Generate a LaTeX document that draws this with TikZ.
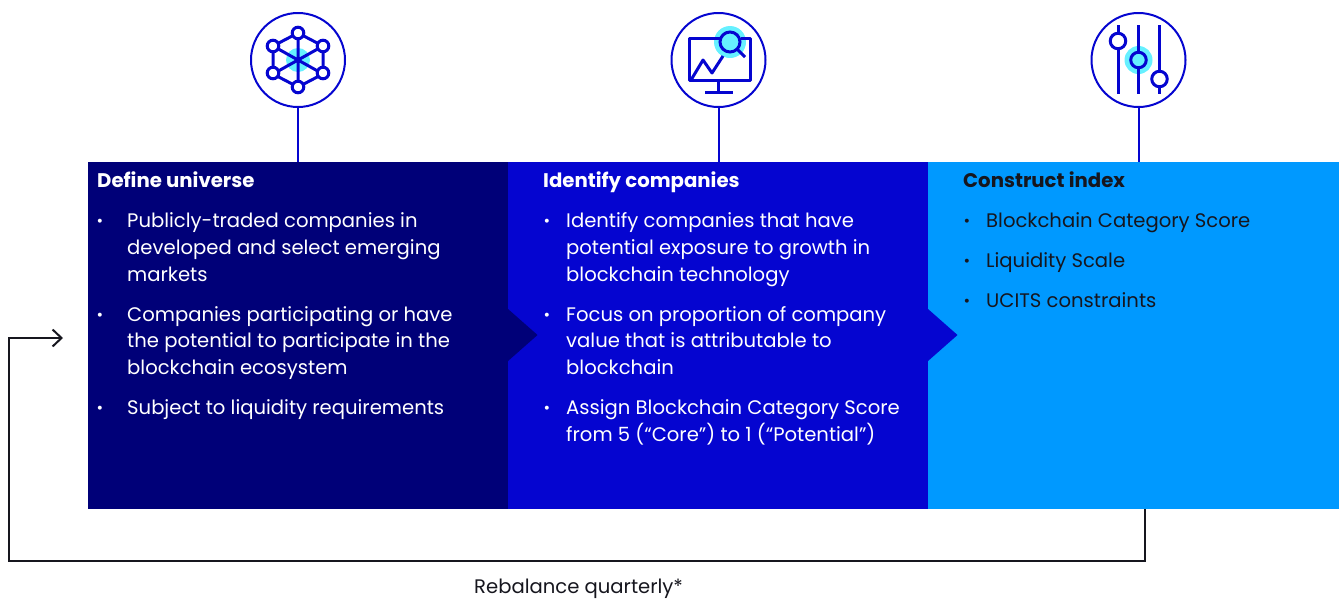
\documentclass[tikz,border=0pt]{standalone}
\usepackage{fontspec}
\setmainfont{Poppins}
\usetikzlibrary{arrows.meta,calc}
\definecolor{navy}{HTML}{000078}
\definecolor{royal}{HTML}{0505D0}
\definecolor{sky}{HTML}{0099FF}
\definecolor{glow}{HTML}{66F0FF}
\definecolor{ink}{HTML}{16161E}
\tikzset{
  panel/.style={draw=none,inner sep=0pt,minimum height=347pt,anchor=north west},
  ringicon/.style={circle,draw=royal,line width=2pt,minimum size=94pt,inner sep=0pt},
  stem/.style={draw=royal,line width=2pt},
  ico/.style={draw=royal,line width=3pt},
  hub/.style={circle,draw=royal,fill=white,line width=3pt,minimum size=11.6pt,inner sep=0pt},
  knob/.style={circle,draw=royal,fill=white,line width=3pt,minimum size=15.5pt,inner sep=0pt},
  txt/.style={anchor=base west,inner sep=0pt,font=\fontsize{19.6}{24}\selectfont},
  head/.style={txt,font=\fontsize{19.7}{24}\selectfont\bfseries},
  dot/.style={anchor=base,inner sep=0pt,font=\fontsize{16}{16}\selectfont},
  loopline/.style={draw=ink,line width=2pt}
}
\begin{document}
\begin{tikzpicture}[x=1pt,y=-1pt]
\useasboundingbox (0,0) rectangle (1339,598);
% panels
\node[panel,fill=navy,minimum width=420pt] (p1) at (88,162) {};
\node[panel,fill=royal,minimum width=420pt] (p2) at (508,162) {};
\node[panel,fill=sky,minimum width=411pt] (p3) at (928,162) {};
\fill[navy] (508,309) -- (537.5,335) -- (508,361) -- cycle;
\fill[royal] (928,309) -- (957.5,335) -- (928,361) -- cycle;
% rings and stems
\node[ringicon] (r1) at (298,60) {};
\node[ringicon] (r2) at (718.5,60) {};
\node[ringicon] (r3) at (1138.5,60) {};
\draw[stem] (r1.south) -- (r1.south |- p1.north);
\draw[stem] (r2.south) -- (r2.south |- p2.north);
\draw[stem] (r3.south) -- (r3.south |- p3.north);
% icon 1
\fill[glow] (298,60) circle (12);
\draw[ico] (298,33) -- (323,46) -- (323,74) -- (298,87) -- (273,74) -- (273,46) -- cycle;
\draw[ico] (298,33) -- (298,87) (273,46) -- (323,74) (323,46) -- (273,74);
\node[hub] (h1) at (298,33) {};
\node[hub] (h2) at (323,46) {};
\node[hub] (h3) at (323,73) {};
\node[hub] (h4) at (298,87) {};
\node[hub] (h5) at (273,73) {};
\node[hub] (h6) at (273,46) {};
% icon 2
\fill[glow] (730,42) circle (16);
\draw[ico,line join=round] (720,38.5) -- (689,38.5) -- (689,80) -- (750,80) -- (750,38.5) -- (741,38.5);
\draw[ico,line join=round] (691,80) -- (703,60) -- (712,73) -- (723,56);
\draw[ico] (718.5,80) -- (718.5,92) (705,92) -- (733,92);
\draw[ico] (730,42) circle (10);
\draw[ico] (737.5,49.5) -- (745,57);
% icon 3
\fill[glow] (1138.5,60) circle (14);
\draw[ico] (1118,25) -- (1118,94) (1138.5,25) -- (1138.5,94) (1159.5,25) -- (1159.5,94);
\node[knob] (k1) at (1118,41) {};
\node[knob,fill=glow] (k2) at (1138.5,60) {};
\node[knob] (k3) at (1159.5,79) {};
% panel 1 text
\begin{scope}[text=white]
\node[head] (t10) at (97,187.5) {Define universe};
\node[dot] (b11) at (100,226) {•};
\node[txt] (t11) at (127,227.3) {Publicly-traded companies in};
\node[txt] (t12) at (127,254.3) {developed and select emerging};
\node[txt] (t13) at (127,281.3) {markets};
\node[dot] (b12) at (100,320) {•};
\node[txt] (t14) at (127,321.3) {Companies participating or have};
\node[txt] (t15) at (127,347.3) {the potential to participate in the};
\node[txt] (t16) at (127,374.3) {blockchain ecosystem};
\node[dot] (b13) at (100,413) {•};
\node[txt] (t17) at (127,414.3) {Subject to liquidity requirements};
% panel 2 text
\node[head] (t20) at (543,187.5) {Identify companies};
\node[dot] (b21) at (547,226) {•};
\node[txt] (t21) at (566,227.3) {Identify companies that have};
\node[txt] (t22) at (566,254.3) {potential exposure to growth in};
\node[txt] (t23) at (566,281.3) {blockchain technology};
\node[dot] (b22) at (547,320) {•};
\node[txt] (t24) at (566,321.3) {Focus on proportion of company};
\node[txt] (t25) at (566,347.3) {value that is attributable to};
\node[txt] (t26) at (566,374.3) {blockchain};
\node[dot] (b23) at (547,413) {•};
\node[txt] (t27) at (566,414.3) {Assign Blockchain Category Score};
\node[txt] (t28) at (566,441.3) {from 5 (“Core”) to 1 (“Potential”)};
\end{scope}
% panel 3 text
\begin{scope}[text=ink]
\node[head] (t30) at (963,187.5) {Construct index};
\node[dot] (b31) at (967,226) {•};
\node[txt] (t31) at (986,227.3) {Blockchain Category Score};
\node[dot] (b32) at (967,266) {•};
\node[txt] (t32) at (986,267.3) {Liquidity Scale};
\node[dot] (b33) at (967,306) {•};
\node[txt] (t33) at (986,307.3) {UCITS constraints};
\end{scope}
% loop
\coordinate (ls) at (1145,509);
\coordinate (le) at (63,338);
\draw[loopline,-{Straight Barb[length=9pt,width=17pt,line width=2pt]}] (ls) -- (1145,561) -- (9,561) -- (9,338) -- (le);
\node[txt,text=ink] (lab) at (474,593) {Rebalance quarterly*};
\end{tikzpicture}
\end{document}
